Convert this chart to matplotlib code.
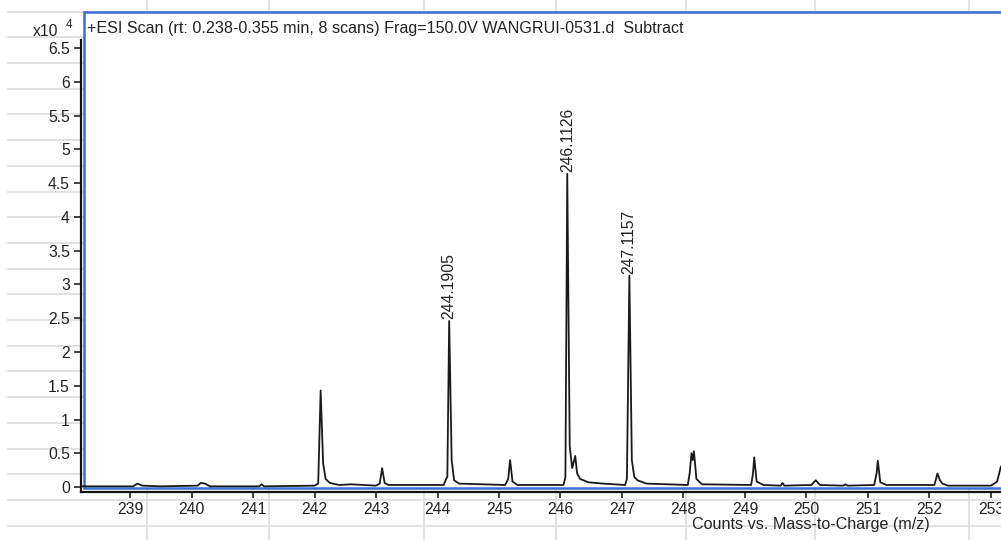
import numpy as np
import matplotlib
matplotlib.use('Agg')
import matplotlib.pyplot as plt
from matplotlib.lines import Line2D
from matplotlib.patches import Rectangle

plt.rcParams['font.family'] = ['Liberation Sans', 'DejaVu Sans']

# profile points (m/z, counts x10^4)
mz = [238.20, 239.05, 239.12, 239.20, 239.50, 240.10, 240.15, 240.22, 240.30,
      241.10, 241.14, 241.18, 242.00, 242.06, 242.10, 242.14, 242.18, 242.25,
      242.40, 242.60, 243.00, 243.06, 243.10, 243.14, 243.20, 244.10, 244.14,
      244.16, 244.19, 244.23, 244.27, 244.35, 245.10, 245.15, 245.18, 245.22,
      245.30, 246.05, 246.08, 246.11, 246.15, 246.19, 246.24, 246.27, 246.32,
      246.45, 246.70, 247.05, 247.08, 247.12, 247.16, 247.20, 247.25, 247.40,
      248.07, 248.10, 248.13, 248.15, 248.17, 248.21, 248.30, 249.10, 249.13,
      249.15, 249.19, 249.30, 249.58, 249.61, 249.64, 250.08, 250.15, 250.22,
      250.60, 250.63, 250.67, 251.10, 251.14, 251.16, 251.20, 251.30, 252.08,
      252.13, 252.17, 252.21, 252.30, 253.00, 253.10, 253.16]
counts = [0.01, 0.01, 0.05, 0.02, 0.01, 0.02, 0.06, 0.05, 0.01,
          0.01, 0.04, 0.01, 0.02, 0.05, 1.43, 0.35, 0.12, 0.06,
          0.03, 0.04, 0.02, 0.05, 0.28, 0.06, 0.03, 0.03, 0.12,
          0.15, 2.46, 0.40, 0.10, 0.05, 0.03, 0.12, 0.40, 0.08,
          0.03, 0.03, 0.15, 4.64, 0.60, 0.28, 0.46, 0.20, 0.12,
          0.07, 0.05, 0.03, 0.12, 3.13, 0.40, 0.15, 0.10, 0.05,
          0.03, 0.20, 0.50, 0.40, 0.53, 0.12, 0.04, 0.03, 0.20,
          0.44, 0.08, 0.03, 0.02, 0.06, 0.02, 0.03, 0.10, 0.03,
          0.02, 0.04, 0.02, 0.03, 0.20, 0.39, 0.07, 0.03, 0.03,
          0.20, 0.10, 0.05, 0.02, 0.02, 0.08, 0.30]

label_mz = [244.1905, 246.1126, 247.1157]
label_counts = [2.46, 4.64, 3.13]

xticks = list(range(239, 254))
yticks = [0, 0.5, 1, 1.5, 2, 2.5, 3, 3.5, 4, 4.5, 5, 5.5, 6, 6.5]

W, H = 1001, 540
fig = plt.figure(figsize=(W / 100, H / 100), dpi=100)
fig.patch.set_facecolor('white')

def fx(x):
    return x / W

def fy(y):
    return 1 - y / H

# spreadsheet cell grid behind the chart
grid_c = '#dcdcdc'
for y in np.arange(11.6, 540, 25.7):
    fig.add_artist(Line2D([fx(8), 1], [fy(y), fy(y)], color=grid_c, lw=1.2, zorder=0))
for x in [147, 269, 424, 556, 686, 815, 969]:
    fig.add_artist(Line2D([fx(x), fx(x)], [0, 1], color=grid_c, lw=1.2, zorder=0))

# plot area box
fig.add_artist(Rectangle((fx(83.5), fy(488)), 1.0, fy(12) - fy(488), transform=fig.transFigure,
                         facecolor='white', edgecolor='#3a6fd0', lw=1.8, zorder=1))

ax = fig.add_axes([fx(81), fy(492), 1 - fx(81), fy(40) - fy(492)])
ax.set_zorder(5)
ax.patch.set_alpha(0)

fs = 11.3
ax.plot(mz, counts, color='#1a1a1a', lw=1.3)
for m, c in zip(label_mz, label_counts):
    ax.annotate(f'{m:.4f}', (m, c), xytext=(0, 1.5), textcoords='offset points',
                rotation=90, ha='center', va='bottom', fontsize=fs, color='#222222')

ax.set_xlim(238.203, 253.163)
ax.set_ylim(-0.074, 6.622)
ax.set_xticks(xticks)
ax.set_yticks(yticks)
ax.set_yticklabels([f'{v:g}' for v in yticks])
for s in ['top', 'right']:
    ax.spines[s].set_visible(False)
for s in ['left', 'bottom']:
    ax.spines[s].set_color('#111111')
    ax.spines[s].set_linewidth(1.6)
ax.tick_params(axis='x', length=4, width=1.2, pad=3, labelsize=fs, colors='#222222')
ax.tick_params(axis='y', length=5, width=1.2, pad=3, labelsize=fs, colors='#222222')

fig.text(fx(33), fy(32), 'x10', fontsize=fs, va='center', ha='left', color='#222222')
fig.text(fx(66), fy(25), '4', fontsize=8.5, va='center', ha='left', color='#222222')
fig.text(fx(87), fy(29), '+ESI Scan (rt: 0.238-0.355 min, 8 scans) Frag=150.0V WANGRUI-0531.d  Subtract',
         fontsize=11.65, va='center', ha='left', color='#222222', zorder=6)
fig.text(fx(692), fy(524), 'Counts vs. Mass-to-Charge (m/z)', fontsize=11.65, va='center', ha='left',
         color='#222222')

fig.savefig('out.png', dpi=100)
